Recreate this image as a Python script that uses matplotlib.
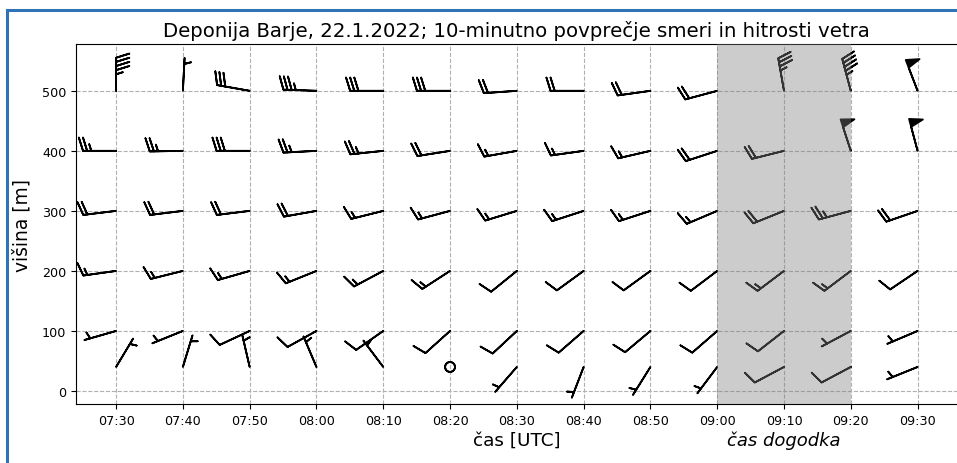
import datetime as dt
import numpy as np
import matplotlib
matplotlib.use('Agg')
import matplotlib.pyplot as plt
import matplotlib.dates as mdates
from matplotlib.lines import Line2D
from matplotlib.transforms import blended_transform_factory

# ---- data ----
times = ['07:30', '07:40', '07:50', '08:00', '08:10', '08:20', '08:30',
         '08:40', '08:50', '09:00', '09:10', '09:20', '09:30']
heights = [500, 400, 300, 200, 100, 40]

# wind direction (deg, from) and speed per height
dir_500 = [0, 3, 280, 272, 270, 270, 266, 270, 262, 255, 350, 345, 339]
spd_500 = [45, 5, 30, 35, 30, 30, 20, 20, 20, 20, 35, 45, 50]
dir_400 = [270, 269, 270, 267, 264, 261, 260, 262, 257, 252, 256, 342, 345]
spd_400 = [25, 25, 30, 25, 25, 20, 15, 15, 15, 20, 20, 50, 50]
dir_300 = [263, 263, 263, 260, 256, 255, 253, 252, 252, 247, 248, 255, 251]
spd_300 = [20, 20, 20, 20, 15, 15, 15, 15, 15, 15, 20, 25, 20]
dir_200 = [262, 256, 254, 248, 242, 237, 231, 234, 234, 233, 233, 233, 236]
spd_200 = [15, 15, 15, 15, 15, 15, 10, 10, 10, 10, 15, 15, 10]
dir_100 = [254, 248, 245, 241, 235, 228, 227, 229, 230, 229, 232, 242, 247]
spd_100 = [5, 5, 10, 10, 10, 10, 10, 10, 10, 10, 10, 5, 5]
dir_40 = [31, 17, 347, 337, 323, 0, 221, 201, 212, 217, 242, 242, 248]
spd_40 = [5, 5, 5, 5, 5, 0, 5, 5, 5, 5, 10, 10, 5]

directions = [dir_500, dir_400, dir_300, dir_200, dir_100, dir_40]
speeds = [spd_500, spd_400, spd_300, spd_200, spd_100, spd_40]

event_start, event_end = '09:00', '09:20'
event_label_time = '09:10'
xlim_times = ('07:24', '09:35:54')

title = 'Deponija Barje, 22.1.2022; 10-minutno povprečje smeri in hitrosti vetra'
xlabel = 'čas [UTC]'
ylabel = 'višina [m]'
event_label = 'čas dogodka'


def tnum(t):
    parts = [int(p) for p in t.split(':')]
    while len(parts) < 3:
        parts.append(0)
    return mdates.date2num(dt.datetime(2022, 1, 22, *parts))


X, Y, U, V = [], [], [], []
for h, drs, sps in zip(heights, directions, speeds):
    for t, d, s in zip(times, drs, sps):
        r = np.deg2rad(d)
        X.append(tnum(t))
        Y.append(h)
        U.append(-s * np.sin(r))
        V.append(-s * np.cos(r))

fig = plt.figure(figsize=(9.57, 4.64), dpi=100)
ax = fig.add_axes([76 / 957, 59 / 464, 881 / 957, 360 / 464])

ax.barbs(np.array(X), np.array(Y), np.array(U), np.array(V),
         length=6.9, color='black', linewidth=1.3, zorder=2)

ax.axvspan(tnum(event_start), tnum(event_end), color='grey', alpha=0.4,
           lw=0, zorder=3)

ax.set_xlim(tnum(xlim_times[0]), tnum(xlim_times[1]))
ax.set_ylim(-21.7, 578)
ax.set_yticks([0, 100, 200, 300, 400, 500])
ax.xaxis.set_major_locator(mdates.MinuteLocator(byminute=range(0, 60, 10)))
ax.xaxis.set_major_formatter(mdates.DateFormatter('%H:%M'))
ax.tick_params(labelsize=9.2)
ax.grid(True, linestyle='--', color='#b0b0b0', linewidth=0.8)
ax.spines['right'].set_visible(False)

ax.set_title(title, fontsize=14.2)
ax.set_xlabel(xlabel, fontsize=13.2, labelpad=3)
ax.set_ylabel(ylabel, fontsize=13.4, labelpad=7.5)

trans = blended_transform_factory(ax.transData, fig.transFigure)
ax.text(tnum(event_label_time), 23 / 464, event_label, transform=trans,
        ha='center', va='center', fontsize=13, style='italic')

# blue frame of the screenshot
blue = '#2f74b5'
fig.add_artist(Line2D([7.3 / 957, 7.3 / 957], [0, 1 - 10.5 / 464],
                      transform=fig.transFigure, color=blue, lw=2.2))
fig.add_artist(Line2D([7.3 / 957, 1], [1 - 10.5 / 464, 1 - 10.5 / 464],
                      transform=fig.transFigure, color=blue, lw=2.2))

fig.savefig('out.png', dpi=100)
